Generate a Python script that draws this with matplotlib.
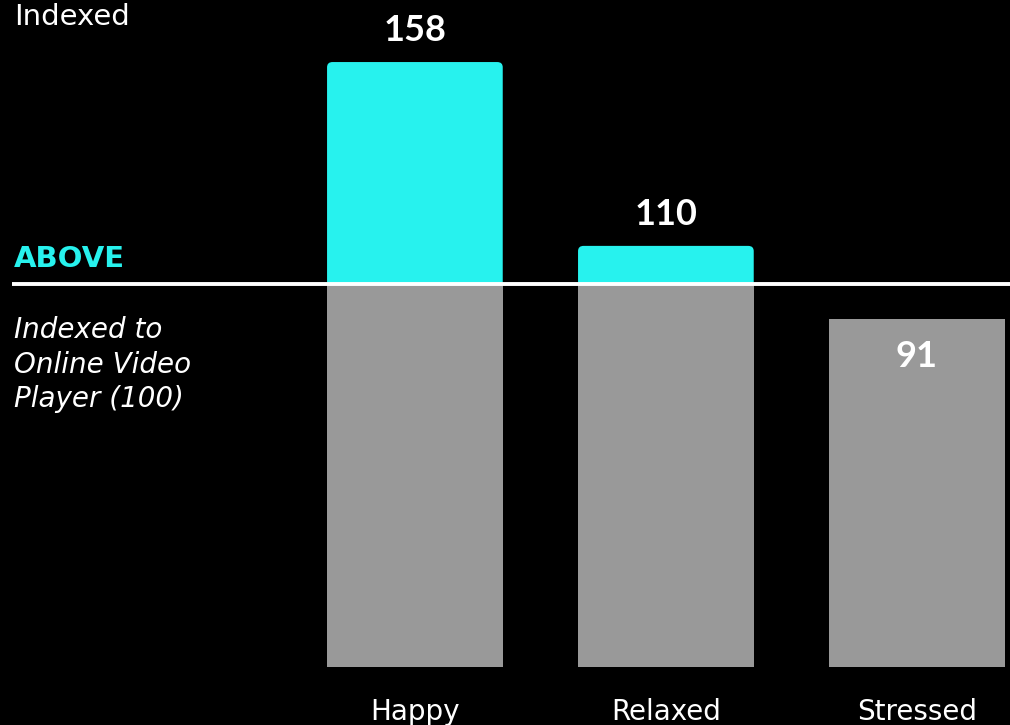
import matplotlib
matplotlib.use("Agg")
import matplotlib.pyplot as plt
from matplotlib.patches import FancyBboxPatch

# index values, online video player = 100
categories = ["Happy", "Relaxed", "Stressed"]
values = [158, 110, 91]
baseline = 100

CYAN = "#27f2ee"
GREY = "#999999"

plt.rcParams['font.family'] = ['DejaVu Sans']

W, H = 1010, 725
fig = plt.figure(figsize=(W / 100, H / 100), dpi=100, facecolor="black")
ax = fig.add_axes([0, 0, 1, 1])
ax.set_facecolor("black")
ax.set_xlim(-1.653, 2.371)
ax.set_ylim(-15.1, 174.2)
ax.axis("off")

width = 0.70
xs = range(len(categories))
for x, v in zip(xs, values):
    # part above the baseline, rounded top corners
    if v > baseline:
        top = FancyBboxPatch((x - width / 2, baseline - 10), width, v - baseline + 10,
                             boxstyle="round,pad=0,rounding_size=0.022",
                             mutation_aspect=62, facecolor=CYAN, edgecolor="none", zorder=1)
        ax.add_patch(top)
    ax.bar(x, min(v, baseline), width=width, color=GREY, zorder=2)

ax.plot([-1.606, 2.371], [baseline, baseline], color="white", lw=2.8, zorder=3,
        solid_capstyle="butt")

# value labels: above the bar if over the baseline, inside otherwise
numfont = ["Lato", "DejaVu Sans"]
for x, v in zip(xs, values):
    dy = 15 if v > baseline else -35
    ax.annotate(str(v), (x, v), xytext=(0, dy), textcoords="offset points",
                ha="center", va="baseline", color="white", fontsize=26,
                fontweight="bold", family=numfont)

# category labels
for x, c in zip(xs, categories):
    ax.annotate(c, (x, 0), xytext=(0, -38), textcoords="offset points",
                ha="center", va="baseline", color="white", fontsize=20)


def px(x, y):
    return x / W, 1 - y / H


fig.text(*px(14, 25), "Indexed", color="white", fontsize=21, va="baseline")
fig.text(*px(14, 267), "ABOVE", color=CYAN, fontsize=21, fontweight="bold", va="baseline")
for y, line in zip([338, 373, 407], ["Indexed to", "Online Video", "Player (100)"]):
    fig.text(*px(14, y), line, color="white", fontsize=20, style="italic", va="baseline")

fig.savefig("out.png", dpi=100, facecolor="black")
